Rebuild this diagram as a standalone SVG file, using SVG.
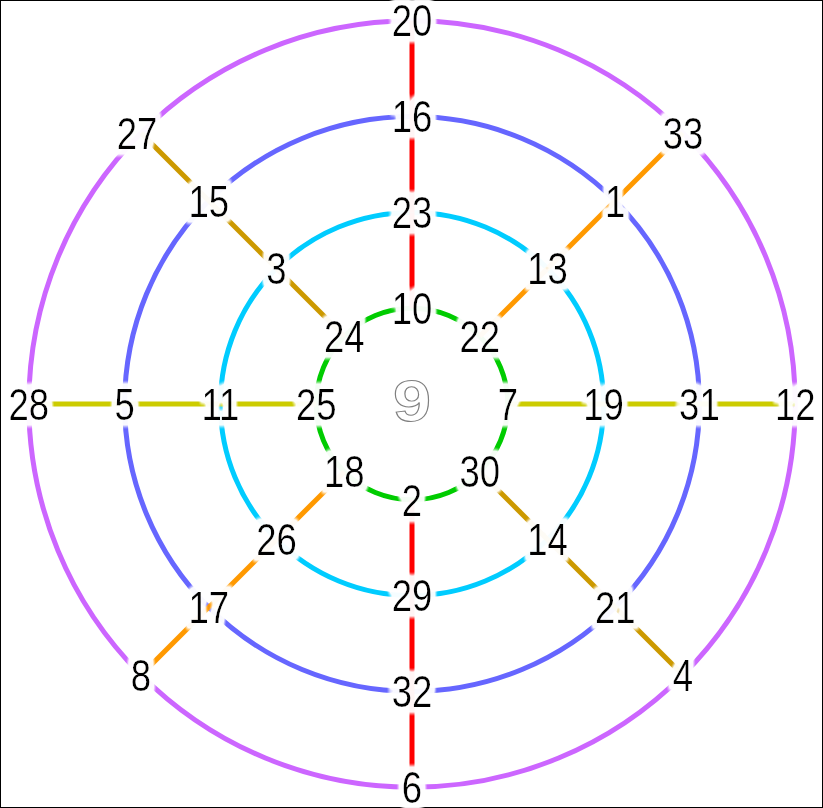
<svg xmlns="http://www.w3.org/2000/svg" width="823" height="808" viewBox="0 0 823 808">
<style>
.e{fill:none;stroke-width:5;stroke-linecap:butt}
.g{stroke:#00cc00}.c{stroke:#00ccff}.b{stroke:#6666ff}.p{stroke:#cc66ff}
.r{stroke:#ff0000}.y{stroke:#cccc00}.o{stroke:#ff9900}.d{stroke:#cc9900}
.t{font-family:"Liberation Sans",Arial,sans-serif;font-size:44px;fill:#000;text-anchor:middle;filter:url(#halo)}
.nine{font-family:"Liberation Sans",Arial,sans-serif;font-size:57px;font-weight:bold;fill:#fff;stroke:#808080;stroke-width:1;text-anchor:middle}
</style>
<defs>
<filter id="halo" x="-80%" y="-80%" width="260%" height="260%">
<feMorphology in="SourceAlpha" operator="dilate" radius="6" result="d"/>
<feGaussianBlur in="d" stdDeviation="2" result="bl"/>
<feComponentTransfer in="bl" result="bl2"><feFuncA type="linear" slope="1.6" intercept="-0.1"/></feComponentTransfer>
<feFlood flood-color="#ffffff" flood-opacity="0.96"/>
<feComposite in2="bl2" operator="in" result="w"/>
<feMerge><feMergeNode in="w"/><feMergeNode in="SourceGraphic"/></feMerge>
</filter>
</defs>
<rect x="0.5" y="0.5" width="822" height="807" fill="#fff" stroke="#000" stroke-width="1"/>
<g id="connectors">
<path class="e g" d="M412 308.2A95.8 95.8 0 0 1 479.74 336.26"/>
<path class="e g" d="M479.74 336.26A95.8 95.8 0 0 1 507.8 404"/>
<path class="e g" d="M507.8 404A95.8 95.8 0 0 1 479.74 471.74"/>
<path class="e g" d="M479.74 471.74A95.8 95.8 0 0 1 412 499.8"/>
<path class="e g" d="M412 499.8A95.8 95.8 0 0 1 344.26 471.74"/>
<path class="e g" d="M344.26 471.74A95.8 95.8 0 0 1 316.2 404"/>
<path class="e g" d="M316.2 404A95.8 95.8 0 0 1 344.26 336.26"/>
<path class="e g" d="M344.26 336.26A95.8 95.8 0 0 1 412 308.2"/>
<path class="e c" d="M412 212.4A191.6 191.6 0 0 1 547.48 268.52"/>
<path class="e c" d="M547.48 268.52A191.6 191.6 0 0 1 603.6 404"/>
<path class="e c" d="M603.6 404A191.6 191.6 0 0 1 547.48 539.48"/>
<path class="e c" d="M547.48 539.48A191.6 191.6 0 0 1 412 595.6"/>
<path class="e c" d="M412 595.6A191.6 191.6 0 0 1 276.52 539.48"/>
<path class="e c" d="M276.52 539.48A191.6 191.6 0 0 1 220.4 404"/>
<path class="e c" d="M220.4 404A191.6 191.6 0 0 1 276.52 268.52"/>
<path class="e c" d="M276.52 268.52A191.6 191.6 0 0 1 412 212.4"/>
<path class="e b" d="M412 116.6A287.4 287.4 0 0 1 615.22 200.78"/>
<path class="e b" d="M615.22 200.78A287.4 287.4 0 0 1 699.4 404"/>
<path class="e b" d="M699.4 404A287.4 287.4 0 0 1 615.22 607.22"/>
<path class="e b" d="M615.22 607.22A287.4 287.4 0 0 1 412 691.4"/>
<path class="e b" d="M412 691.4A287.4 287.4 0 0 1 208.78 607.22"/>
<path class="e b" d="M208.78 607.22A287.4 287.4 0 0 1 124.6 404"/>
<path class="e b" d="M124.6 404A287.4 287.4 0 0 1 208.78 200.78"/>
<path class="e b" d="M208.78 200.78A287.4 287.4 0 0 1 412 116.6"/>
<path class="e p" d="M412 20.8A383.2 383.2 0 0 1 682.96 133.04"/>
<path class="e p" d="M682.96 133.04A383.2 383.2 0 0 1 795.2 404"/>
<path class="e p" d="M795.2 404A383.2 383.2 0 0 1 682.96 674.96"/>
<path class="e p" d="M682.96 674.96A383.2 383.2 0 0 1 412 787.2"/>
<path class="e p" d="M412 787.2A383.2 383.2 0 0 1 141.04 674.96"/>
<path class="e p" d="M141.04 674.96A383.2 383.2 0 0 1 28.8 404"/>
<path class="e p" d="M28.8 404A383.2 383.2 0 0 1 141.04 133.04"/>
<path class="e p" d="M141.04 133.04A383.2 383.2 0 0 1 412 20.8"/>
<line class="e r" x1="412" y1="20.8" x2="412" y2="116.6"/>
<line class="e r" x1="412" y1="116.6" x2="412" y2="212.4"/>
<line class="e r" x1="412" y1="212.4" x2="412" y2="308.2"/>
<line class="e r" x1="412" y1="499.8" x2="412" y2="595.6"/>
<line class="e r" x1="412" y1="595.6" x2="412" y2="691.4"/>
<line class="e r" x1="412" y1="691.4" x2="412" y2="787.2"/>
<line class="e y" x1="28.8" y1="404" x2="124.6" y2="404"/>
<line class="e y" x1="124.6" y1="404" x2="220.4" y2="404"/>
<line class="e y" x1="220.4" y1="404" x2="316.2" y2="404"/>
<line class="e y" x1="507.8" y1="404" x2="603.6" y2="404"/>
<line class="e y" x1="603.6" y1="404" x2="699.4" y2="404"/>
<line class="e y" x1="699.4" y1="404" x2="795.2" y2="404"/>
<line class="e o" x1="682.96" y1="133.04" x2="615.22" y2="200.78"/>
<line class="e o" x1="615.22" y1="200.78" x2="547.48" y2="268.52"/>
<line class="e o" x1="547.48" y1="268.52" x2="479.74" y2="336.26"/>
<line class="e o" x1="344.26" y1="471.74" x2="276.52" y2="539.48"/>
<line class="e o" x1="276.52" y1="539.48" x2="208.78" y2="607.22"/>
<line class="e o" x1="208.78" y1="607.22" x2="141.04" y2="674.96"/>
<line class="e d" x1="141.04" y1="133.04" x2="208.78" y2="200.78"/>
<line class="e d" x1="208.78" y1="200.78" x2="276.52" y2="268.52"/>
<line class="e d" x1="276.52" y1="268.52" x2="344.26" y2="336.26"/>
<line class="e d" x1="479.74" y1="471.74" x2="547.48" y2="539.48"/>
<line class="e d" x1="547.48" y1="539.48" x2="615.22" y2="607.22"/>
<line class="e d" x1="615.22" y1="607.22" x2="682.96" y2="674.96"/>
</g>
<g id="n9"><text class="nine" transform="translate(412 421) scale(1.2 1)">9</text></g>
<g id="n10"><text class="t" transform="translate(412 324) scale(0.83 1)">10</text></g>
<g id="n22"><text class="t" transform="translate(479.7 352) scale(0.83 1)">22</text></g>
<g id="n7"><text class="t" transform="translate(507.8 419.7) scale(0.83 1)">7</text></g>
<g id="n30"><text class="t" transform="translate(479.7 487.4) scale(0.83 1)">30</text></g>
<g id="n2"><text class="t" transform="translate(412 515.5) scale(0.83 1)">2</text></g>
<g id="n18"><text class="t" transform="translate(344.3 487.4) scale(0.83 1)">18</text></g>
<g id="n25"><text class="t" transform="translate(316.2 419.7) scale(0.83 1)">25</text></g>
<g id="n24"><text class="t" transform="translate(344.3 352) scale(0.83 1)">24</text></g>
<g id="n23"><text class="t" transform="translate(412 228.1) scale(0.83 1)">23</text></g>
<g id="n13"><text class="t" transform="translate(547.5 284.2) scale(0.83 1)">13</text></g>
<g id="n19"><text class="t" transform="translate(603.6 419.7) scale(0.83 1)">19</text></g>
<g id="n14"><text class="t" transform="translate(547.5 555.2) scale(0.83 1)">14</text></g>
<g id="n29"><text class="t" transform="translate(412 611.3) scale(0.83 1)">29</text></g>
<g id="n26"><text class="t" transform="translate(276.5 555.2) scale(0.83 1)">26</text></g>
<g id="n11"><text class="t" transform="translate(220.4 419.7) scale(0.83 1)">11</text></g>
<g id="n3"><text class="t" transform="translate(276.5 284.2) scale(0.83 1)">3</text></g>
<g id="n16"><text class="t" transform="translate(412 132.3) scale(0.83 1)">16</text></g>
<g id="n1"><text class="t" transform="translate(615.2 216.5) scale(0.83 1)">1</text></g>
<g id="n31"><text class="t" transform="translate(699.4 419.7) scale(0.83 1)">31</text></g>
<g id="n21"><text class="t" transform="translate(615.2 622.9) scale(0.83 1)">21</text></g>
<g id="n32"><text class="t" transform="translate(412 707.1) scale(0.83 1)">32</text></g>
<g id="n17"><text class="t" transform="translate(208.8 622.9) scale(0.83 1)">17</text></g>
<g id="n5"><text class="t" transform="translate(124.6 419.7) scale(0.83 1)">5</text></g>
<g id="n15"><text class="t" transform="translate(208.8 216.5) scale(0.83 1)">15</text></g>
<g id="n20"><text class="t" transform="translate(412 36) scale(0.83 1)">20</text></g>
<g id="n33"><text class="t" transform="translate(683 148.7) scale(0.83 1)">33</text></g>
<g id="n12"><text class="t" transform="translate(795.2 419.7) scale(0.83 1)">12</text></g>
<g id="n4"><text class="t" transform="translate(683 690.7) scale(0.83 1)">4</text></g>
<g id="n6"><text class="t" transform="translate(412 802.5) scale(0.83 1)">6</text></g>
<g id="n8"><text class="t" transform="translate(141 690.7) scale(0.83 1)">8</text></g>
<g id="n28"><text class="t" transform="translate(28.8 419.7) scale(0.83 1)">28</text></g>
<g id="n27"><text class="t" transform="translate(137 148.7) scale(0.83 1)">27</text></g>
</svg>
